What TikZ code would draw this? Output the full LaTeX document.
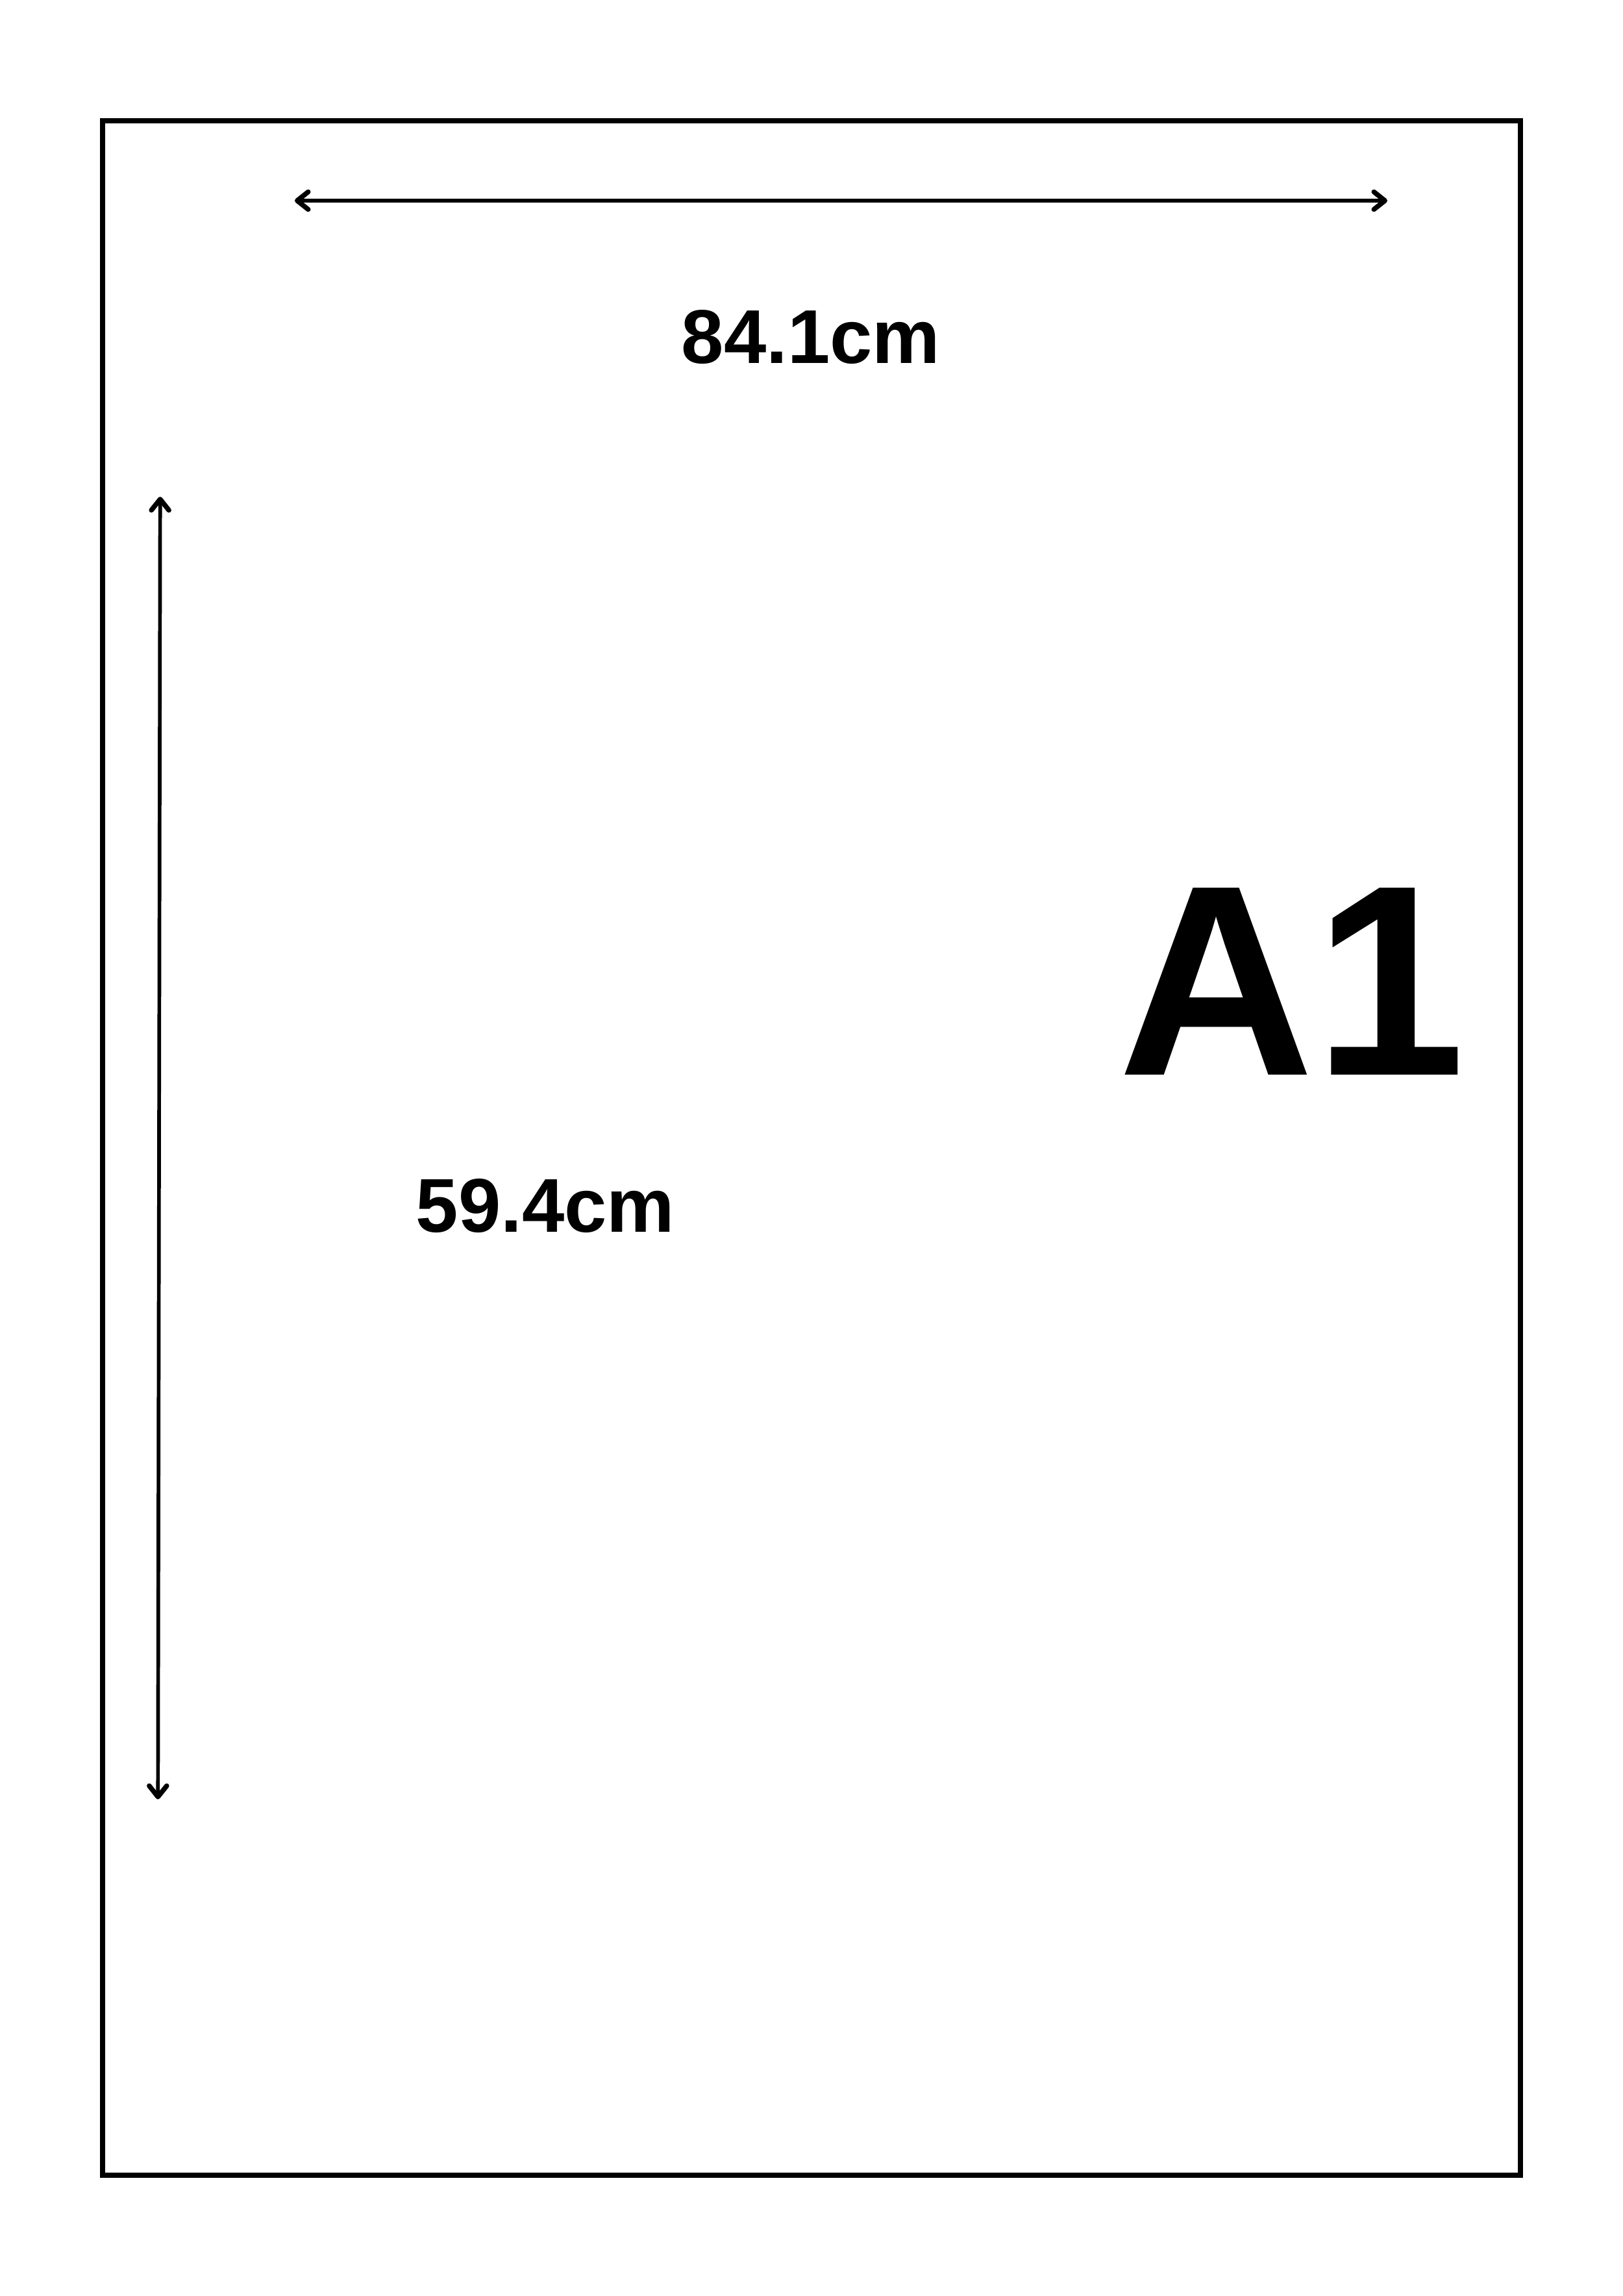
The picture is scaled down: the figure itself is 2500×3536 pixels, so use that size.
\documentclass[tikz,border=0pt]{standalone}
\usepackage{fontspec}
\setmainfont{Liberation Sans}
\usetikzlibrary{arrows.meta}
\begin{document}
\begin{tikzpicture}[x=0.01cm,y=-0.01cm,
  frameline/.style={line width=0.075cm, line join=miter},
  dimline/.style={line width=0.057cm, line cap=round,
    {Straight Barb[length=0.17cm,width=0.27cm,line width=0.075cm,line cap=round,line join=round]}-{Straight Barb[length=0.17cm,width=0.27cm,line width=0.075cm,line cap=round,line join=round]}},
  dimlabel/.style={font=\bfseries\fontsize{33.4pt}{40pt}\selectfont, anchor=base, inner sep=0pt},
  biglabel/.style={font=\bfseries\fontsize{119pt}{140pt}\selectfont, anchor=base, inner sep=0pt}]
\useasboundingbox (0,0) rectangle (2500,3536);
\fill[white] (0,0) rectangle (2500,3536);
\draw[frameline] (158,186) rectangle (2342,3350);
\coordinate (hl) at (454,309);
\coordinate (hr) at (2137,309);
\coordinate (vt) at (246.7,765);
\coordinate (vb) at (243.3,2771);
\draw[dimline] (hl) -- (hr);
\draw[dimline] (vt) -- (vb);
\node[dimlabel] (wlab) at (1249,559) {84.1cm};
\node[dimlabel] (hlab) at (840,1897) {59.4cm};
\node[biglabel] (size) at (1990,1655) {A1};
\end{tikzpicture}
\end{document}
